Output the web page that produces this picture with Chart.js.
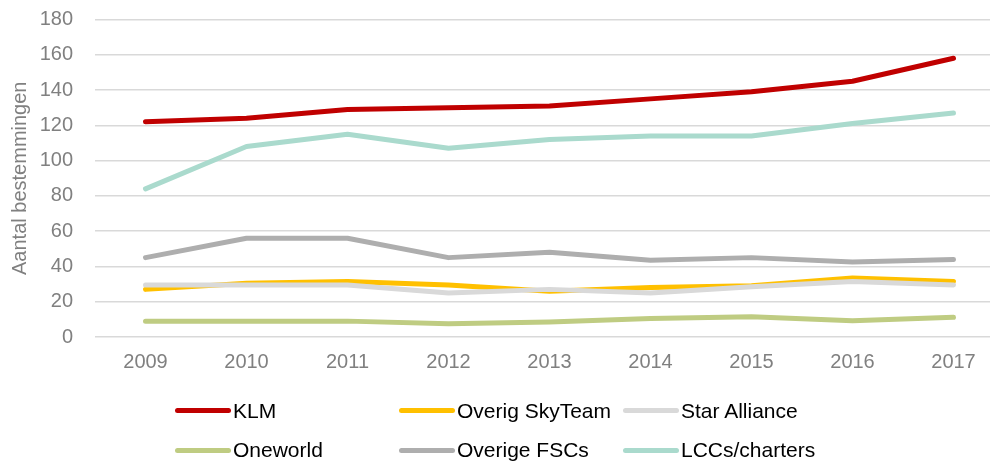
<!DOCTYPE html>
<html>
<head>
<meta charset="utf-8">
<script src="https://cdn.jsdelivr.net/npm/chart.js@4"></script>
<style>
    body { margin: 0; background: #fff; }
    #wrap { position: relative; width: 994px; height: 461px; }
    #customLegend { position: absolute; left: 0; top: 0; width: 994px; height: 461px; pointer-events: none; }
    #customLegend .item { position: absolute; height: 24px; display: flex; align-items: center; }
    #customLegend .item span { display: inline-block; width: 56px; height: 5px; border-radius: 3px; margin-right: 2px; }
    #customLegend .item p { margin: 0; font: 21px "Liberation Sans", Arial, sans-serif; color: #000; white-space: nowrap; }
</style>
</head>
<body>
<div id="wrap">
    <canvas id="LineChart"></canvas>
    <div id="customLegend"></div>
</div>
<script>
// data
const years = [2009, 2010, 2011, 2012, 2013, 2014, 2015, 2016, 2017];
const seriesNames = ['KLM', 'Overig SkyTeam', 'Star Alliance', 'Oneworld', 'Overige FSCs', 'LCCs/charters'];
const klm = [122, 124, 129, 130, 131, 135, 139, 145, 158];
const overigSkyTeam = [27, 30.5, 31.5, 29.5, 26, 28, 29, 33.5, 31.5];
const starAlliance = [29.5, 29.5, 29.5, 25, 27, 25, 28.5, 31.5, 29.5];
const oneworld = [9, 9, 9, 7.5, 8.5, 10.5, 11.5, 9.2, 11.2];
const overigeFSCs = [45, 56, 56, 45, 48, 43.5, 45, 42.5, 44];
const lccCharters = [84, 108, 115, 107, 112, 114, 114, 121, 127];
const yTicks = [0, 20, 40, 60, 80, 100, 120, 140, 160, 180];

const allValues = [klm, overigSkyTeam, starAlliance, oneworld, overigeFSCs, lccCharters];

// line colors
const lineColor = ['#c00000', '#ffc000', '#d9d9d9', '#bfcc82', '#aeaeae', '#aadacd'];

// legend placement (two rows, three columns)
const legendCols = [175, 399, 623];
const legendRows = [410.5, 450];

const font = '"Liberation Sans", Arial, sans-serif';
const axisGrey = '#808080';

const datasets = seriesNames.map((name, index) => ({
    label: name,
    data: years.map((yr, i) => ({ x: yr, y: allValues[index][i] })),
    borderColor: lineColor[index],
    backgroundColor: lineColor[index],
    borderWidth: 5,
    borderCapStyle: 'round',
    borderJoinStyle: 'round',
    pointRadius: 0,
    tension: 0,
    // later series on top
    order: seriesNames.length - index
}));

const lineChart = new Chart(document.getElementById('LineChart'), {
    type: 'line',
    data: { datasets: datasets },
    options: {
        responsive: true,
        maintainAspectRatio: false,
        animation: false,
        layout: { padding: { top: 19.5, right: 4, bottom: 0, left: 0 } },
        scales: {
            x: {
                type: 'linear',
                min: years[0] - 0.5,
                max: years[0] - 0.5 + (990 - 95) / 101,
                afterBuildTicks: (scale) => { scale.ticks = years.map(v => ({ value: v })); },
                afterFit: (scale) => { scale.height = 124; },
                grid: { display: false, drawTicks: false },
                border: { display: false },
                ticks: {
                    padding: 13,
                    color: axisGrey,
                    font: { family: font, size: 20 },
                    callback: (v) => String(v),
                    maxRotation: 0
                }
            },
            y: {
                min: 0,
                max: 180,
                afterBuildTicks: (scale) => { scale.ticks = yTicks.map(v => ({ value: v })); },
                afterFit: (scale) => { scale.width = 95; },
                // invisible tick marks push the labels away from the plot
                grid: { color: '#d9d9d9', lineWidth: 1.5, drawTicks: true, tickLength: 22, tickColor: 'rgba(0,0,0,0)' },
                border: { display: false },
                ticks: {
                    padding: 0,
                    color: axisGrey,
                    font: { family: font, size: 20 }
                },
                title: {
                    display: true,
                    text: 'Aantal bestemmingen',
                    color: axisGrey,
                    font: { family: font, size: 20 },
                    padding: { top: 8, bottom: 0 }
                }
            }
        },
        plugins: {
            legend: { display: false },
            tooltip: { enabled: false }
        }
    }
});

// custom legend built from the chart's datasets
function generateLegend(locationID, chartName) {
    const location = document.getElementById(locationID);
    chartName.data.datasets.forEach((dataset, index) => {
        const li = document.createElement('DIV');
        li.className = 'item';
        li.style.left = legendCols[index % 3] + 'px';
        li.style.top = (legendRows[Math.floor(index / 3)] - 12) + 'px';

        const spanBox = document.createElement('SPAN');
        spanBox.style.backgroundColor = dataset.borderColor;

        const p = document.createElement('P');
        p.appendChild(document.createTextNode(dataset.label));

        li.appendChild(spanBox);
        li.appendChild(p);
        location.appendChild(li);
    });
}

generateLegend('customLegend', lineChart);
</script>
</body>
</html>
